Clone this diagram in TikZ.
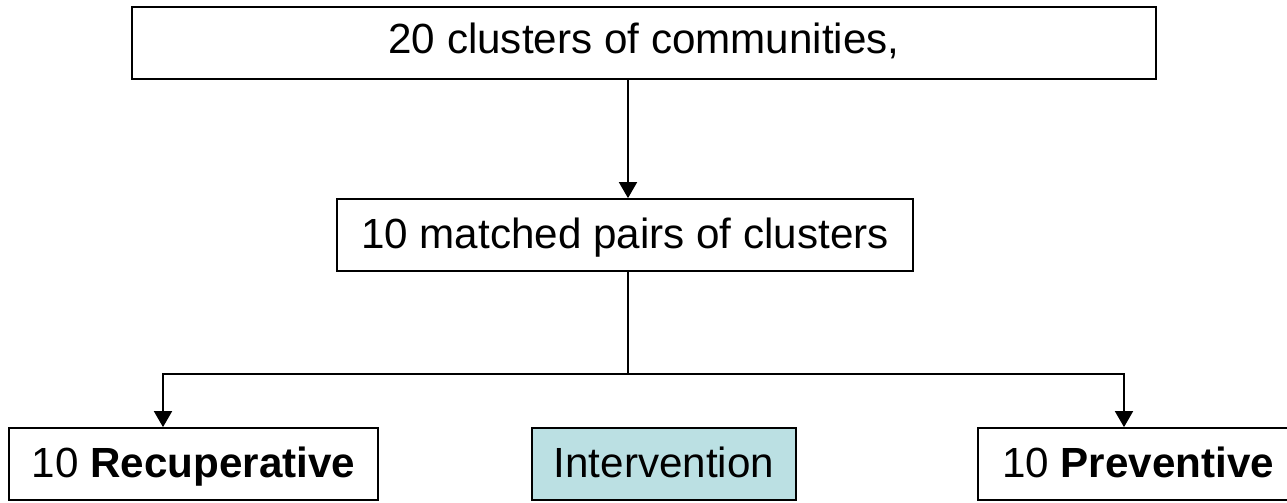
\documentclass[tikz,border=0pt]{standalone}
\usepackage{fontspec}
\setmainfont{Liberation Sans}
\usetikzlibrary{positioning, arrows.meta}

\definecolor{interblue}{RGB}{187,224,227}

\begin{document}
\begin{tikzpicture}[
    box/.style={draw, line width=1pt, rectangle, fill=white, align=center,
                font=\fontsize{24}{29}\selectfont, inner sep=0pt,
                text height=18pt, text depth=3pt,
                minimum height=1.44cm},
    arr/.style={line width=1pt, -{Triangle[width=0.36cm, length=0.32cm]}}
]
    \useasboundingbox (0,0) rectangle (25.74,-10.04);

    % --- Top level ---
    \node[box, minimum width=20.48cm, text height=17pt, text depth=5.5pt]
        (clusters) at (12.88, -0.86) {20 clusters of communities,};

    % --- Pairs ---
    \node[box, minimum width=11.52cm] (pairs) at (12.5, -4.7)
        {10 matched pairs of clusters};

    % --- Arms ---
    \node[box, minimum width=7.38cm] (recup) at (3.87, -9.28)
        {10 \textbf{Recuperative}};
    \node[box, minimum width=5.28cm, fill=interblue] (interv) at (13.28, -9.28)
        {Intervention};
    \node[box, minimum width=6.4cm] (prev) at (22.76, -9.28)
        {10 \textbf{Preventive}};

    % --- Connections ---
    \coordinate (split) at (12.56, -7.48);
    \draw[arr] (split |- clusters.south) -- (split |- pairs.north);
    \draw[line width=1pt] (split |- pairs.south) -- (split);
    \draw[arr] (split) -| ([xshift=-0.61cm]recup.north);
    \draw[arr] (split) -| ([xshift=-0.28cm]prev.north);
\end{tikzpicture}
\end{document}
